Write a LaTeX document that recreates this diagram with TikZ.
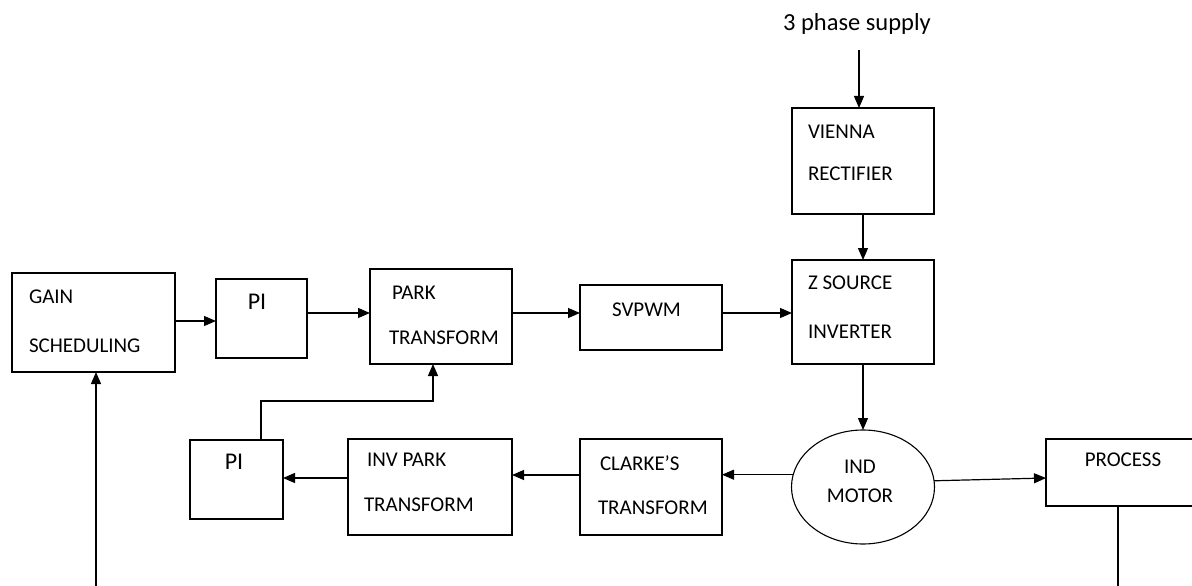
\documentclass[tikz,border=0pt]{standalone}
\usepackage{fontspec}
\setmainfont{Carlito}
\usetikzlibrary{arrows.meta,shapes.geometric}
\tikzset{
  blk/.style={draw, line width=1.2pt, inner sep=0pt, outer sep=0pt},
  oval/.style={draw, ellipse, line width=1.1pt, inner sep=0pt, outer sep=0pt, minimum width=143pt, minimum height=114pt},
  lbl/.style={inner sep=0pt, outer sep=0pt, font=\fontsize{21}{25}\selectfont, text=black},
  biglbl/.style={inner sep=0pt, outer sep=0pt, font=\fontsize{24}{28}\selectfont, text=black},
  arr/.style={line width=1.2pt, -{Triangle[length=12pt,width=10pt]}},
  wire/.style={line width=1.2pt}
}
\begin{document}
\begin{tikzpicture}[x=1pt,y=-1pt]
\useasboundingbox (0,0) rectangle (1192,586);
\clip (0,0) rectangle (1192,586);
% blocks
\node[blk, minimum width=163pt, minimum height=99pt] (gain) at (93.5,322.5) {};
\node[blk, minimum width=91pt, minimum height=79pt] (pione) at (261.5,318.5) {};
\node[blk, minimum width=142pt, minimum height=95pt] (park) at (441,316.5) {};
\node[blk, minimum width=142pt, minimum height=65pt] (svpwm) at (651,317.5) {};
\node[blk, minimum width=142pt, minimum height=104pt] (zs) at (863,312) {};
\node[blk, minimum width=142pt, minimum height=106pt] (vienna) at (863,161) {};
\node[oval] (motor) at (863,487) {};
\node[blk, minimum width=164pt, minimum height=67pt] (process) at (1128,472.5) {};
\node[blk, minimum width=142pt, minimum height=96pt] (clarke) at (651,487) {};
\node[blk, minimum width=164pt, minimum height=96pt] (invpark) at (430,487) {};
\node[blk, minimum width=93pt, minimum height=79pt] (pitwo) at (236.5,479.5) {};
% labels
\node[lbl, anchor=west] (tgain1) at (29,297) {GAIN};
\node[lbl, anchor=west] (tgain2) at (29,346) {SCHEDULING};
\node[biglbl] (tpione) at (257,302) {PI};
\node[lbl, anchor=west] (tpark1) at (392,293) {PARK};
\node[lbl, anchor=west] (tpark2) at (389,338) {TRANSFORM};
\node[lbl, anchor=west] (tsv) at (612,310) {SVPWM};
\node[lbl, anchor=west] (tzs1) at (808,283) {Z SOURCE};
\node[lbl, anchor=west] (tzs2) at (808,332) {INVERTER};
\node[lbl, anchor=west] (tvi1) at (808,132) {VIENNA};
\node[lbl, anchor=west] (tvi2) at (808,174) {RECTIFIER};
\node[lbl] (tmo1) at (860,467) {IND};
\node[lbl] (tmo2) at (860,496) {MOTOR};
\node[lbl] (tpro) at (1123,460) {PROCESS};
\node[biglbl] (tpitwo) at (234,462) {PI};
\node[lbl, anchor=west] (tinv1) at (367,460) {INV PARK};
\node[lbl, anchor=west] (tinv2) at (364,505) {TRANSFORM};
\node[lbl, anchor=west] (tcl1) at (600,463) {CLARKE’S};
\node[lbl, anchor=west] (tcl2) at (598,508) {TRANSFORM};
\node[inner sep=0pt, anchor=base, font=\fontsize{24.5}{28}\selectfont] (supply) at (857,31) {3 phase supply};
% helper coordinates
\coordinate (sup) at (859,50);
\coordinate (ya) at (0,321);
\coordinate (yb) at (0,313);
\coordinate (yc) at (0,475);
\coordinate (yd) at (0,478);
\coordinate (ka) at (261,401);
\coordinate (kb) at (433,401);
\coordinate (pend) at (1118,586);
\coordinate (gend) at (96,586);
% connectors
\draw[arr] (sup) -- (sup |- vienna.north);
\draw[arr] (vienna.south) -- (zs.north);
\draw[arr] (zs.south) -- (motor.north);
\draw[arr] (motor.5) -- (process.west |- yd);
\draw[arr] (motor.170) -- (clarke.east |- motor.170);
\draw[arr] (clarke.west |- yc) -- (invpark.east |- yc);
\draw[arr] (invpark.west |- yd) -- (pitwo.east |- yd);
\draw[arr] (pitwo.north -| ka) -- (ka) -- (kb) -- (kb |- park.south);
\draw[wire] (pend |- process.south) -- (pend);
\draw[arr] (gend) -- (gend |- gain.south);
\draw[arr] (gain.east |- ya) -- (pione.west |- ya);
\draw[arr] (pione.east |- yb) -- (park.west |- yb);
\draw[arr] (park.east |- yb) -- (svpwm.west |- yb);
\draw[arr] (svpwm.east |- yb) -- (zs.west |- yb);
\end{tikzpicture}
\end{document}
